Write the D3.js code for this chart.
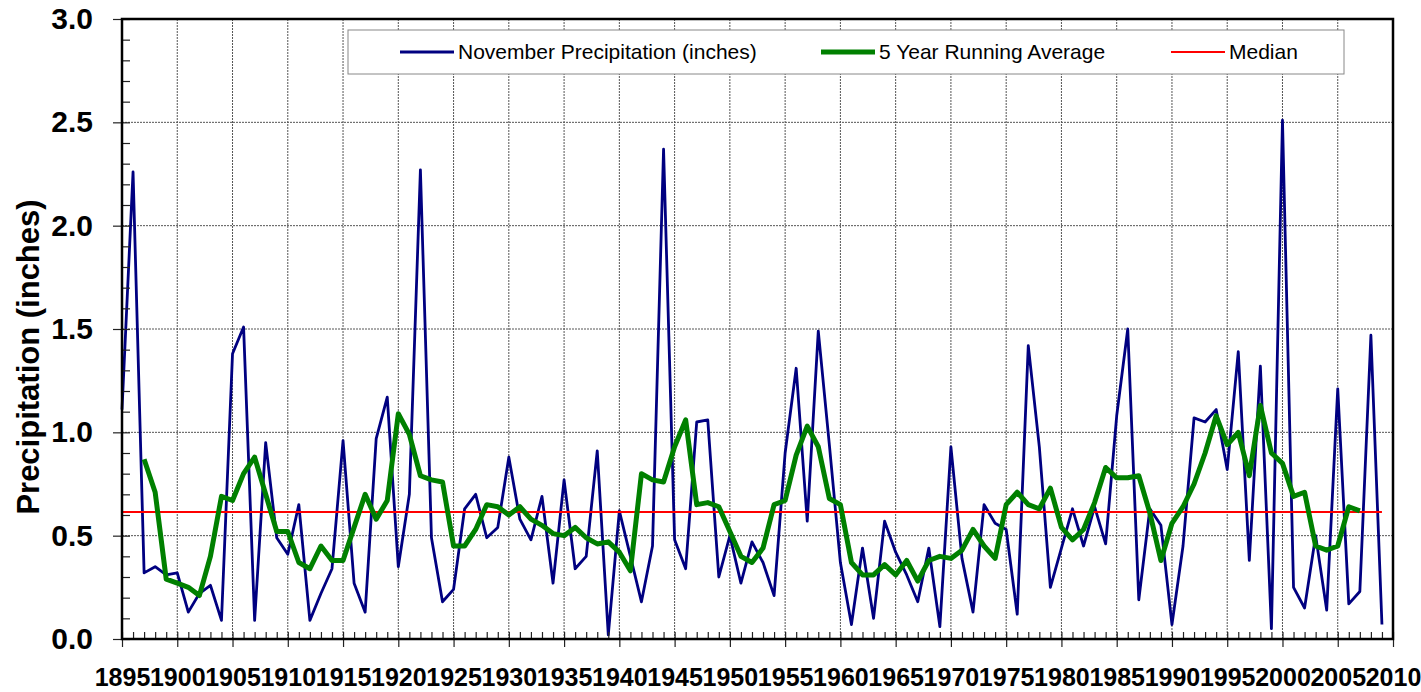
<!DOCTYPE html>
<html>
<head>
<meta charset="utf-8">
<script src="https://cdn.jsdelivr.net/npm/d3@7"></script>
<style>
  body { margin: 0; background: #fff; }
  .chart-container { width: 1421px; height: 692px; }
  text { font-family: "Liberation Sans", Arial, sans-serif; }
</style>
</head>
<body>
<div class="chart-container"></div>
<script>
// Data.
const years = d3.range(1895, 2010);
const precip = [
  1.11, 2.26, 0.32, 0.35, 0.31, 0.32, 0.13, 0.22, 0.26, 0.09,
  1.38, 1.51, 0.09, 0.95, 0.49, 0.41, 0.65, 0.09, 0.22, 0.34,
  0.96, 0.27, 0.13, 0.97, 1.17, 0.35, 0.70, 2.27, 0.49, 0.18,
  0.24, 0.63, 0.70, 0.49, 0.54, 0.88, 0.58, 0.48, 0.69, 0.27,
  0.77, 0.34, 0.40, 0.91, 0.02, 0.62, 0.40, 0.18, 0.45, 2.37,
  0.48, 0.34, 1.05, 1.06, 0.30, 0.50, 0.27, 0.47, 0.37, 0.21,
  0.90, 1.31, 0.57, 1.49, 0.94, 0.37, 0.07, 0.44, 0.10, 0.57,
  0.42, 0.31, 0.18, 0.44, 0.06, 0.93, 0.39, 0.13, 0.65, 0.56,
  0.53, 0.12, 1.42, 0.93, 0.25, 0.44, 0.63, 0.45, 0.64, 0.46,
  1.08, 1.50, 0.19, 0.63, 0.55, 0.07, 0.45, 1.07, 1.05, 1.11,
  0.82, 1.39, 0.38, 1.32, 0.05, 2.51, 0.25, 0.15, 0.50, 0.14,
  1.21, 0.17, 0.23, 1.47, 0.07
];
// 5 year running average, centred (1897 - 2007)
const avgYears = d3.range(1897, 2008);
const runAvg = [
  0.87, 0.71, 0.29, 0.27, 0.25, 0.21, 0.40, 0.69,
  0.67, 0.80, 0.88, 0.70, 0.52, 0.52, 0.37, 0.34, 0.45, 0.38,
  0.38, 0.54, 0.70, 0.58, 0.67, 1.09, 0.99, 0.79, 0.77, 0.76,
  0.45, 0.45, 0.53, 0.65, 0.64, 0.60, 0.64, 0.58, 0.55, 0.51,
  0.50, 0.54, 0.49, 0.46, 0.47, 0.42, 0.33, 0.80, 0.77, 0.76,
  0.93, 1.06, 0.65, 0.66, 0.64, 0.52, 0.40, 0.37, 0.44, 0.65,
  0.67, 0.89, 1.03, 0.93, 0.68, 0.65, 0.37, 0.31, 0.31, 0.36,
  0.31, 0.38, 0.28, 0.38, 0.40, 0.39, 0.43, 0.53, 0.45, 0.39,
  0.65, 0.71, 0.65, 0.63, 0.73, 0.54, 0.48, 0.53, 0.66, 0.83,
  0.78, 0.78, 0.79, 0.61, 0.38, 0.56, 0.64, 0.75, 0.90, 1.08,
  0.94, 1.00, 0.79, 1.13, 0.90, 0.85, 0.69, 0.71, 0.45, 0.43,
  0.45, 0.64, 0.62
];
const median = 0.615;
const xTickLabels = d3.range(1895, 2011, 5);
const yTickLabels = [0, 0.5, 1.0, 1.5, 2.0, 2.5, 3.0];
const legendLabels = ["November Precipitation (inches)", "5 Year Running Average", "Median"];

const precipData = years.map((y, i) => ({ year: y, value: precip[i] }));
const avgData = avgYears.map((y, i) => ({ year: y, value: runAvg[i] }));

// Margin convention.
const margin = { top: 19, right: 28, bottom: 53, left: 122 };
const width = 1421 - margin.left - margin.right;
const height = 692 - margin.top - margin.bottom;

const svg = d3
  .select(".chart-container")
  .append("svg")
  .attr("width", 1421)
  .attr("height", 692)
  .append("g")
  .attr("transform", `translate(${margin.left}, ${margin.top})`);

// Scales.
const xScale = d3.scaleLinear().domain([1895, 2010]).range([0, width]);
const yScale = d3.scaleLinear().domain([0, 3]).range([height, 0]);

// Grid lines.
const grid = svg.append("g").attr("class", "grid");
grid
  .selectAll(".vgrid")
  .data(xTickLabels.slice(1, -1))
  .enter()
  .append("line")
  .attr("x1", (d) => xScale(d))
  .attr("x2", (d) => xScale(d))
  .attr("y1", 0)
  .attr("y2", height)
  .attr("stroke", "#555")
  .attr("stroke-width", 1)
  .attr("stroke-dasharray", "2,1");
grid
  .selectAll(".hgrid")
  .data(yTickLabels.slice(1, -1))
  .enter()
  .append("line")
  .attr("x1", 0)
  .attr("x2", width)
  .attr("y1", (d) => yScale(d))
  .attr("y2", (d) => yScale(d))
  .attr("stroke", "#555")
  .attr("stroke-width", 1)
  .attr("stroke-dasharray", "2,1");

// Lines.
const line = d3
  .line()
  .x((d) => xScale(d.year))
  .y((d) => yScale(d.value));

svg
  .append("path")
  .datum(precipData)
  .attr("fill", "none")
  .attr("stroke", "#000080")
  .attr("stroke-width", 2.8)
  .attr("stroke-linejoin", "round")
  .attr("d", line);

svg
  .append("line")
  .attr("x1", xScale(1895))
  .attr("x2", xScale(2009))
  .attr("y1", yScale(median))
  .attr("y2", yScale(median))
  .attr("stroke", "#ff0000")
  .attr("stroke-width", 2);

svg
  .append("path")
  .datum(avgData)
  .attr("fill", "none")
  .attr("stroke", "#008000")
  .attr("stroke-width", 5)
  .attr("stroke-linejoin", "round")
  .attr("d", line);

// Axes.
const xMinor = d3.axisBottom(xScale).tickValues(d3.range(1895, 2011)).tickSize(-7).tickFormat("");
const xAxis = d3
  .axisBottom(xScale)
  .tickValues(xTickLabels)
  .tickSize(8)
  .tickSizeOuter(0)
  .tickPadding(21)
  .tickFormat(d3.format("d"));
const yMinor = d3.axisLeft(yScale).tickValues(d3.range(0, 31).map((d) => d / 10)).tickSize(-8).tickFormat("");
const yAxis = d3
  .axisLeft(yScale)
  .tickValues(yTickLabels)
  .tickSize(9)
  .tickSizeOuter(0)
  .tickPadding(20)
  .tickFormat(d3.format(".1f"));

[xMinor, xAxis].forEach((ax) => {
  svg.append("g").attr("class", "x axis").attr("transform", `translate(0, ${height})`).call(ax);
});
[yMinor, yAxis].forEach((ax) => {
  svg.append("g").attr("class", "y axis").call(ax);
});
svg.selectAll(".axis path").remove();
svg.selectAll(".axis line").attr("stroke", "#222").attr("stroke-width", 1.2);
svg
  .selectAll(".x.axis text")
  .attr("font-family", "Liberation Sans, Arial, sans-serif")
  .attr("font-size", 25)
  .attr("font-weight", "bold")
  .attr("fill", "#000");
svg
  .selectAll(".y.axis text")
  .attr("font-family", "Liberation Sans, Arial, sans-serif")
  .attr("font-size", 30)
  .attr("font-weight", "bold")
  .attr("fill", "#000");

// Frame.
svg
  .append("rect")
  .attr("x", 0)
  .attr("y", 0)
  .attr("width", width)
  .attr("height", height)
  .attr("fill", "none")
  .attr("stroke", "#000")
  .attr("stroke-width", 2.5);

// Y label.
svg
  .append("text")
  .attr("transform", `translate(${-83}, ${338}) rotate(-90)`)
  .attr("text-anchor", "middle")
  .attr("font-size", 31)
  .attr("font-weight", "bold")
  .text("Precipitation (inches)");

// Legend.
const legend = svg.append("g").attr("class", "legend").attr("transform", `translate(${348 - margin.left}, ${30 - margin.top})`);
legend
  .append("rect")
  .attr("width", 996)
  .attr("height", 44)
  .attr("fill", "#fff")
  .attr("stroke", "#888")
  .attr("stroke-width", 1);

const legendItems = [
  { label: legendLabels[0], color: "#000080", w: 2.8, x: 52 },
  { label: legendLabels[1], color: "#008000", w: 5, x: 473 },
  { label: legendLabels[2], color: "#ff0000", w: 2, x: 823 },
];
const li = legend
  .selectAll(".item")
  .data(legendItems)
  .enter()
  .append("g")
  .attr("transform", (d) => `translate(${d.x}, 22)`);
li.append("line")
  .attr("x1", 0)
  .attr("x2", 54)
  .attr("stroke", (d) => d.color)
  .attr("stroke-width", (d) => d.w);
li.append("text")
  .attr("x", 58)
  .attr("dy", "0.35em")
  .attr("font-size", 21)
  .text((d) => d.label);
</script>
</body>
</html>
